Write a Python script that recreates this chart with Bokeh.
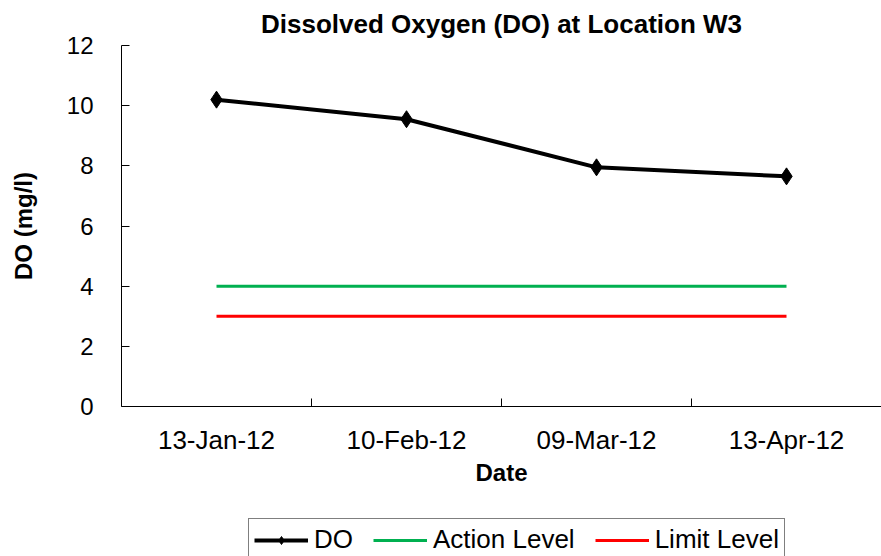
from bokeh.plotting import figure
from bokeh.models import FixedTicker, Legend, LegendItem, Range1d
from bokeh.layouts import column
from bokeh.embed import file_html
from bokeh.resources import INLINE

# ---- data ----
dates = ["13-Jan-12", "10-Feb-12", "09-Mar-12", "13-Apr-12"]
do_values = [10.2, 9.55, 7.95, 7.65]
action_level = [4, 4, 4, 4]
limit_level = [3, 3, 3, 3]
y_ticks = [0, 2, 4, 6, 8, 10, 12]
series_labels = ["DO", "Action Level", "Limit Level"]

x = [i + 0.5 for i in range(len(dates))]
FONT = "Liberation Sans"
BLACK, GREEN, RED = "black", "#00B050", "#FF0000"

p = figure(width=881, height=510,
           x_range=Range1d(0, len(dates)), y_range=Range1d(0, 12),
           output_backend="svg", toolbar_location=None,
           title="Dissolved Oxygen (DO) at Location W3",
           min_border_left=121, min_border_right=0,
           min_border_top=44, min_border_bottom=104)

p.title.text_font = FONT
p.title.text_font_size = "26px"
p.title.text_font_style = "bold"
p.title.align = "center"
p.title.standoff = 13
p.title.text_color = "black"

p.xgrid.visible = False
p.ygrid.visible = False
p.outline_line_color = None
p.background_fill_color = "white"
p.border_fill_color = "white"

# x axis
xa = p.xaxis[0]
xa.ticker = FixedTicker(ticks=x, minor_ticks=[i for i in range(1, len(dates))])
xa.major_label_overrides = {xi: d for xi, d in zip(x, dates)}
xa.major_tick_line_color = None
xa.minor_tick_in = 8
xa.minor_tick_out = 0
xa.minor_tick_line_color = "black"
xa.axis_line_color = "black"
xa.major_label_text_font = FONT
xa.major_label_text_font_size = "26px"
xa.major_label_text_color = "black"
xa.major_label_standoff = 12
xa.axis_label = "Date"
xa.axis_label_text_font = FONT
xa.axis_label_text_font_size = "24px"
xa.axis_label_text_font_style = "bold"
xa.axis_label_text_color = "black"
xa.axis_label_standoff = 1

# y axis
ya = p.yaxis[0]
ya.ticker = FixedTicker(ticks=y_ticks)
ya.major_tick_in = 8
ya.major_tick_out = 0
ya.minor_tick_line_color = None
ya.major_tick_line_color = "black"
ya.axis_line_color = "black"
ya.major_label_text_font = FONT
ya.major_label_text_font_size = "24px"
ya.major_label_text_color = "black"
ya.major_label_standoff = 28
ya.axis_label = "DO (mg/l)"
ya.axis_label_text_font = FONT
ya.axis_label_text_font_size = "24px"
ya.axis_label_text_font_style = "bold"
ya.axis_label_text_color = "black"
ya.axis_label_standoff = 27

p.line(x, do_values, line_color=BLACK, line_width=4)
p.scatter(x, do_values, marker="diamond", size=17, fill_color=BLACK, line_color=BLACK)
p.line(x, action_level, line_color=GREEN, line_width=3)
p.line(x, limit_level, line_color=RED, line_width=3)

# ---- legend strip below the chart (same series, ranges keep them out of view) ----
q = figure(width=881, height=46, x_range=Range1d(0, len(dates)), y_range=Range1d(100, 101),
           output_backend="svg", toolbar_location=None,
           x_axis_type=None, y_axis_type=None,
           min_border_left=0, min_border_right=0, min_border_top=0, min_border_bottom=0)
q.xgrid.visible = False
q.ygrid.visible = False
q.outline_line_color = None
q.background_fill_color = "white"
q.border_fill_color = "white"

l_do = q.line(x, do_values, line_color=BLACK, line_width=4)
m_do = q.scatter(x, do_values, marker="diamond", size=17, fill_color=BLACK, line_color=BLACK)
l_act = q.line(x, action_level, line_color=GREEN, line_width=3)
l_lim = q.line(x, limit_level, line_color=RED, line_width=3)

legend = Legend(items=[LegendItem(label=series_labels[0], renderers=[l_do, m_do]),
                       LegendItem(label=series_labels[1], renderers=[l_act]),
                       LegendItem(label=series_labels[2], renderers=[l_lim])],
                orientation="horizontal", location=(127, -5),
                padding=5, margin=0, spacing=20,
                glyph_width=54, glyph_height=20, label_standoff=6,
                label_text_font=FONT, label_text_font_size="26px",
                label_text_color="black", label_height=28,
                border_line_color="black", border_line_width=1.5,
                background_fill_color="white", background_fill_alpha=1.0)
q.add_layout(legend, "center")

layout = column(p, q, spacing=0)
open("out.html", "w").write(file_html(layout, INLINE))
